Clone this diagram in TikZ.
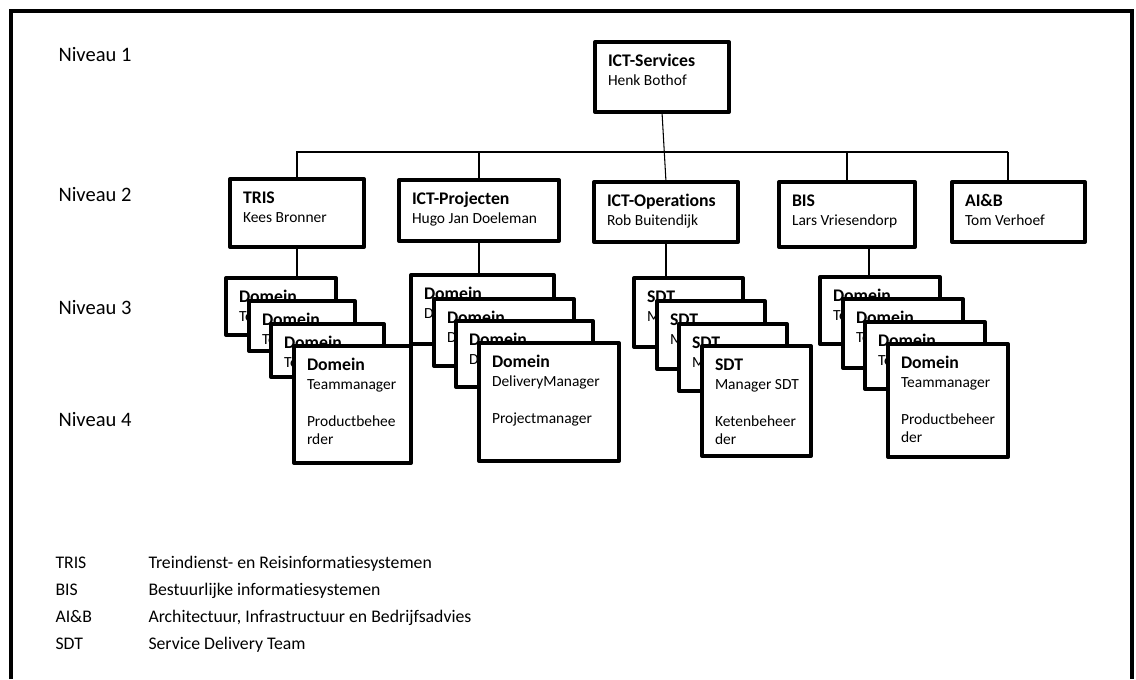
\documentclass[tikz,border=0pt]{standalone}
\usepackage{fontspec}
\setmainfont{Carlito}[Ligatures=NoCommon]
\usepackage{tikz}
\usetikzlibrary{positioning}
\tikzset{every picture/.style={line width=0.75pt}}

\newdimen\px \px=0.75pt
\newcommand{\titlefont}{\fontsize{13.3pt}{13.9pt}\selectfont\bfseries}
\newcommand{\bodyfont}{\fontsize{11.6pt}{13.9pt}\selectfont}
% box content: width, height (px), title, body
\newcommand{\orgcell}[4]{%
  \parbox[t][#2\px][t]{#1\px}{\parindent=0pt\leftskip=13\px\rightskip=0pt plus 1fil
  \rule{0pt}{24.5\px}{\titlefont #3}\par
  {\bodyfont #4\par}}}

\tikzset{
  orgbox/.style={draw, line width=3pt, line join=round, fill=white, inner sep=0pt, outer sep=0pt, anchor=north west},
  level/.style={anchor=base west, inner sep=0pt, font=\fontsize{15.4pt}{18pt}\selectfont},
  legend/.style={anchor=base west, inner sep=0pt, font=\fontsize{13.3pt}{16pt}\selectfont},
  link/.style={line width=0.8pt},
  frame/.style={line width=3.3pt}
}

\begin{document}
\begin{tikzpicture}[x=0.75pt,y=0.75pt,yscale=-1,xscale=1]
\useasboundingbox (0,0) rectangle (1136,679);

%Frame
\draw[frame] (11,679) -- (11,11) -- (1132,11) -- (1132,679);

% Text Node
\node[level] (niv1) at (58,61.6) {Niveau 1};
% Text Node
\node[level] (niv2) at (58,201.6) {Niveau 2};
% Text Node
\node[level] (niv3) at (58,314) {Niveau 3};
% Text Node
\node[level] (niv4) at (58,426) {Niveau 4};

%Niveau 1
\node[orgbox] (ictserv) at (595,42) {\orgcell{134}{70}{ICT-Services}{Henk Bothof}};

%Niveau 2
\node[orgbox] (tris) at (230,179) {\orgcell{134}{68}{TRIS}{Kees Bronner}};
\node[orgbox] (ictproj) at (399,180) {\orgcell{160}{61}{ICT-Projecten}{Hugo Jan Doeleman}};
\node[orgbox] (ictops) at (594,182) {\orgcell{144}{60}{ICT-Operations}{Rob Buitendijk}};
\node[orgbox] (bis) at (779,182) {\orgcell{136}{65}{BIS}{Lars Vriesendorp}};
\node[orgbox] (aib) at (952,182) {\orgcell{133}{60}{AI\&B}{Tom Verhoef}};

%Straight Lines
\coordinate (busL) at (296,152);
\coordinate (busR) at (1008,152);
\draw[link] (busL) -- (busR);
\draw[link] (ictserv.south) -- (ictops.north);
\draw[link] (tris.north) -- (tris.north |- busL);
\draw[link] (ictproj.north) -- (ictproj.north |- busL);
\draw[link] (bis.north) -- (bis.north |- busL);
\draw[link] (busR) -- (busR |- aib.north);

%Niveau 3/4: TRIS
\node[orgbox] (trisA) at (226,278) {\orgcell{110}{57}{Domein}{Teammanager}};
\node[orgbox] (trisB) at (249,301) {\orgcell{106}{50}{Domein}{Teammanager}};
\node[orgbox] (trisC) at (271,324) {\orgcell{113}{53}{Domein}{Teammanager}};
\node[orgbox] (trisD) at (294,346) {\orgcell{117}{117}{Domein}{Teammanager\\[18.5\px]Productbehee\\rder}};

%Niveau 3/4: ICT-Projecten
\node[orgbox] (projA) at (411,275) {\orgcell{143}{69}{Domein}{DeliveryManager}};
\node[orgbox] (projB) at (434,299) {\orgcell{140}{67}{Domein}{DeliveryManager}};
\node[orgbox] (projC) at (456,321) {\orgcell{137}{66}{Domein}{DeliveryManager}};
\node[orgbox] (projD) at (479,343) {\orgcell{140}{118}{Domein}{DeliveryManager\\[18.5\px]Projectmanager}};

%Niveau 3/4: ICT-Operations
\node[orgbox] (sdtA) at (634,278) {\orgcell{109}{69}{SDT}{Manager SDT}};
\node[orgbox] (sdtB) at (657,301) {\orgcell{108}{68}{SDT}{Manager SDT}};
\node[orgbox] (sdtC) at (679,324) {\orgcell{108}{67}{SDT}{Manager SDT}};
\node[orgbox] (sdtD) at (702,346) {\orgcell{109}{110}{SDT}{Manager SDT\\[18.5\px]Ketenbeheer\\der}};

%Niveau 3/4: BIS
\node[orgbox] (bisA) at (820,277) {\orgcell{120}{67}{Domein}{Teammanager}};
\node[orgbox] (bisB) at (843,299) {\orgcell{120}{69}{Domein}{Teammanager}};
\node[orgbox] (bisC) at (865,322) {\orgcell{120}{67}{Domein}{Teammanager}};
\node[orgbox] (bisD) at (888,344) {\orgcell{120}{113}{Domein}{Teammanager\\[18.5\px]Productbeheer\\der}};

%Straight Lines
\coordinate (bisdrop) at ([xshift=16.5pt]bis.south);
\draw[link] (tris.south) -- (tris.south |- trisA.north);
\draw[link] (ictproj.south) -- (ictproj.south |- projA.north);
\draw[link] (ictops.south) -- (ictops.south |- sdtA.north);
\draw[link] (bisdrop) -- (bisdrop |- bisA.north);

%Legend
\node[legend] (lgtris) at (55,568.6) {TRIS};
\node[legend] (lgtrisx) at (148,568.6) {Treindienst- en Reisinformatiesystemen};
\node[legend] (lgbis) at (55,595.6) {BIS};
\node[legend] (lgbisx) at (148,595.6) {Bestuurlijke informatiesystemen};
\node[legend] (lgaib) at (55,622.6) {AI\&B};
\node[legend] (lgaibx) at (148,622.6) {Architectuur, Infrastructuur en Bedrijfsadvies};
\node[legend] (lgsdt) at (55,649.6) {SDT};
\node[legend] (lgsdtx) at (148,649.6) {Service Delivery Team};

\end{tikzpicture}
\end{document}
